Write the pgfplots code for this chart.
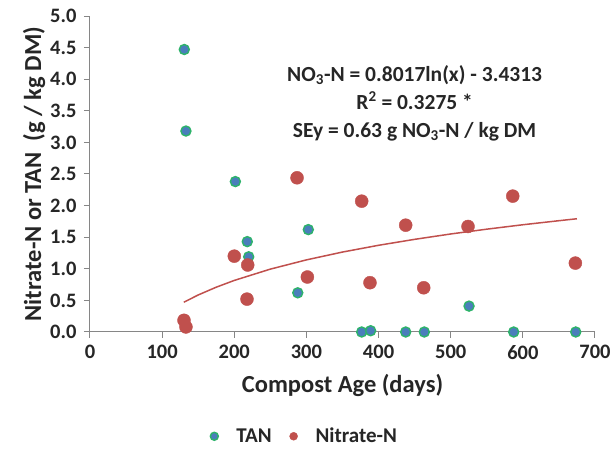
\documentclass[border=0pt]{standalone}
\usepackage{pgfplots}
\pgfplotsset{compat=1.18}
\usepackage{fontspec}
\setmainfont{Carlito}

\definecolor{txt}{HTML}{262626}
\definecolor{axgray}{HTML}{868686}
\definecolor{tanfill}{HTML}{4A7EBB}
\definecolor{tanedge}{HTML}{2DB36A}
\definecolor{nitro}{HTML}{C0504D}

\begin{document}
\begin{tikzpicture}[x=1pt,y=1pt]
\useasboundingbox (0,0) rectangle (614,455);
\begin{axis}[
    at={(90pt,123pt)}, anchor=south west,
    scale only axis,
    width=505pt, height=316pt,
    xmin=0, xmax=700, ymin=0, ymax=5,
    xtick={0,100,...,700},
    ytick={0,0.5,...,5},
    axis x line*=bottom, axis y line*=left,
    axis line style={axgray, line width=1pt},
    tick style={axgray, line width=1pt},
    tick align=outside,
    major tick length=6pt,
    clip=false,
    font=\bfseries\fontsize{20.5}{22}\selectfont,
    every tick label/.append style={txt},
    /pgf/number format/assume math mode=true,
    yticklabel style={xshift=-4pt, /pgf/number format/.cd, fixed, fixed zerofill, precision=1},
    xticklabel style={yshift=-4pt, /pgf/number format/.cd, fixed, precision=0},
    xlabel={Compost Age (days)},
    ylabel={Nitrate-N or TAN~~(g / kg DM)},
    label style={txt, font=\bfseries\fontsize{24.5}{26}\selectfont},
    xlabel style={yshift=-8pt},
    ylabel style={yshift=-2pt},
    legend style={at={(0.425,-0.33)}, anchor=center, draw=none,
        font=\bfseries\fontsize{21}{23}\selectfont, text=txt,
        legend columns=2, column sep=16pt, inner sep=0pt},
    legend image post style={mark size=4pt},
    legend cell align=left,
]

% TAN
\addplot[only marks, mark=*, mark size=5pt,
    mark options={fill=tanfill, draw=tanedge, line width=1.4pt}] coordinates {
    (130.7,4.47) (133,3.18) (201.5,2.38) (218,1.43) (220,1.19)
    (288,0.62) (302.6,1.62) (525.4,0.41)
    (376.6,0) (389,0.02) (437.6,0) (463.4,0) (587.3,0) (673.3,0)
};
\addlegendentry{TAN}

% Nitrate-N
\addplot[only marks, mark=*, mark size=6.5pt,
    mark options={fill=nitro, draw=nitro}] coordinates {
    (130.3,0.185) (133,0.08) (200,1.20) (218.6,1.06) (217.6,0.52)
    (287,2.44) (301.3,0.87) (376.6,2.07) (388.1,0.78) (437.6,1.69)
    (462.6,0.70) (524,1.67) (586,2.15) (672.8,1.09)
};
\addlegendentry{Nitrate-N}

% log trend, points
\addplot[nitro, line width=1.5pt, forget plot] coordinates {
    (130,0.471) (150,0.586) (175,0.709) (200,0.816) (250,0.995)
    (300,1.141) (350,1.265) (400,1.372) (450,1.466) (500,1.551)
    (550,1.627) (600,1.697) (650,1.761) (675,1.792)
};

\node[txt, align=center, font=\bfseries\fontsize{21.5}{28}\selectfont]
    at (axis cs:450,3.62)
    {NO\textsubscript{3}-N = 0.8017ln(x) - 3.4313\\
     R\textsuperscript{2} = 0.3275 *\\
     SEy = 0.63 g NO\textsubscript{3}-N / kg DM};
\end{axis}
\end{tikzpicture}
\end{document}
